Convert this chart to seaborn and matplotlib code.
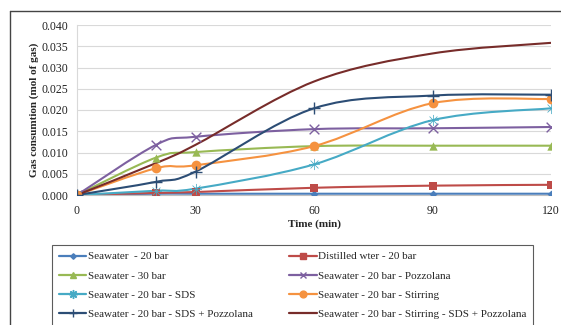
import numpy as np
import pandas as pd
import matplotlib
matplotlib.use('Agg')
import matplotlib.pyplot as plt
import seaborn as sns
from matplotlib.path import Path
from matplotlib.patches import PathPatch
from matplotlib.lines import Line2D

sns.set_style('white')
plt.rcParams['font.family'] = ['Liberation Serif', 'DejaVu Serif']

time_min = [0, 20, 30, 60, 90, 120]

series_names = [
    'Seawater  - 20 bar',
    'Distilled wter - 20 bar',
    'Seawater - 30 bar',
    'Seawater - 20 bar - Pozzolana',
    'Seawater - 20 bar - SDS',
    'Seawater - 20 bar - Stirring',
    'Seawater - 20 bar - SDS + Pozzolana',
    'Seawater - 20 bar - Stirring - SDS + Pozzolana',
]

sw_20 = [0.0, 0.0003, 0.0003, 0.0003, 0.0003, 0.0003]
dw_20 = [0.0, 0.0005, 0.0007, 0.0017, 0.0022, 0.0024]
sw_30 = [0.0, 0.0088, 0.0101, 0.0115, 0.0116, 0.0116]
sw_pozz = [0.0, 0.0118, 0.0137, 0.0155, 0.0157, 0.0160]
sw_sds = [0.0, 0.0010, 0.0015, 0.0072, 0.0176, 0.0204]
sw_stir = [0.0, 0.0063, 0.0070, 0.0115, 0.0216, 0.0226]
sw_sds_pozz = [0.0, 0.0031, 0.0055, 0.0204, 0.0234, 0.0236]
sw_all = [0.0, 0.0075, 0.0118, 0.0267, 0.0333, 0.0358]

all_values = [sw_20, dw_20, sw_30, sw_pozz, sw_sds, sw_stir, sw_sds_pozz, sw_all]

colors = ['#4A7EBB', '#BE4B48', '#98B954', '#7D60A0', '#46AAC5', '#F59240', '#2C4D75', '#772C2A']
markers = ['D', 's', '^', 'x', '$\u2733$', 'o', '+', None]
msizes = [4, 6, 6, 7, 8, 7, 8, 0]

rows = []
for name, vals in zip(series_names, all_values):
    for t, v in zip(time_min, vals):
        rows.append({'time': t, 'gas': v, 'series': name})
df = pd.DataFrame(rows)


def smooth_path(x, y):
    # Excel-like smoothed line as cubic bezier segments
    pts = np.column_stack([x, y]).astype(float)
    n = len(pts)
    verts = [pts[0]]
    codes = [Path.MOVETO]
    for i in range(n - 1):
        p0 = pts[i - 1] if i > 0 else pts[i]
        p1 = pts[i]
        p2 = pts[i + 1]
        p3 = pts[i + 2] if i + 2 < n else pts[i + 1]
        c1 = p1 + (p2 - p0) / 6.0
        c2 = p2 - (p3 - p1) / 6.0
        verts += [c1, c2, p2]
        codes += [Path.CURVE4] * 3
    return Path(verts, codes)


fig = plt.figure(figsize=(5.61, 3.25), dpi=100)
ax = fig.add_axes([77 / 561, 1 - 195 / 325, 474 / 561, 170 / 325])

for i, name in enumerate(series_names):
    sub = df[df['series'] == name]
    path = smooth_path(sub['time'].values, sub['gas'].values)
    ax.add_patch(PathPatch(path, facecolor='none', edgecolor=colors[i], lw=1.5, zorder=2 + i * 0.1))
    if markers[i] is not None:
        sns.scatterplot(data=sub, x='time', y='gas', ax=ax, marker=markers[i], color=colors[i],
                        s=msizes[i] ** 2, linewidth=1.0 if markers[i] in ('x', '+') else 0,
                        edgecolor=colors[i], zorder=3 + i * 0.1, legend=False)

ax.set_xlim(0, 120)
ax.set_ylim(0, 0.040)
ax.set_xticks([0, 30, 60, 90, 120])
ax.set_yticks(np.arange(0, 0.0401, 0.005))
ax.yaxis.set_major_formatter(matplotlib.ticker.FormatStrFormatter('%.3f'))
ax.tick_params(axis='both', length=0, labelsize=8.5, colors='#222222')
ax.tick_params(axis='y', pad=6)
ax.tick_params(axis='x', pad=7)
ax.grid(axis='y', color='#D9D9D9', lw=0.8)
ax.set_axisbelow(True)
for s in ['top', 'right']:
    ax.spines[s].set_visible(False)
ax.spines['left'].set_color('#D9D9D9')
ax.spines['bottom'].set_color('#BFBFBF')
ax.set_xlabel('Time (min)', fontsize=8, fontweight='bold', labelpad=2)
ax.set_ylabel('Gas consumtion (mol of gas)', fontsize=8, fontweight='bold', labelpad=2)

# outer chart frame
fig.add_artist(Line2D([10 / 561, 10 / 561], [0, 1 - 11 / 325], transform=fig.transFigure, color='#444444', lw=1))
fig.add_artist(Line2D([10 / 561, 1], [1 - 11 / 325, 1 - 11 / 325], transform=fig.transFigure, color='#444444', lw=1))

handles = []
for i, name in enumerate(series_names):
    handles.append(Line2D([], [], color=colors[i], lw=1.6, marker=markers[i] if markers[i] else None,
                          markersize=msizes[i] * 0.7, markeredgewidth=1.0, label=name))
order = [0, 2, 4, 6, 1, 3, 5, 7]
leg = fig.legend([handles[k] for k in order], [series_names[k] for k in order],
                 loc='upper left', bbox_to_anchor=(52 / 561, 1 - 245 / 325), ncol=2,
                 fontsize=8, frameon=True, fancybox=False, edgecolor='#333333',
                 handlelength=2.5, handletextpad=0.1, columnspacing=3.3,
                 labelspacing=0.85, borderpad=0.6, borderaxespad=0)
leg.get_frame().set_linewidth(0.8)

fig.savefig('out.png', dpi=100)
